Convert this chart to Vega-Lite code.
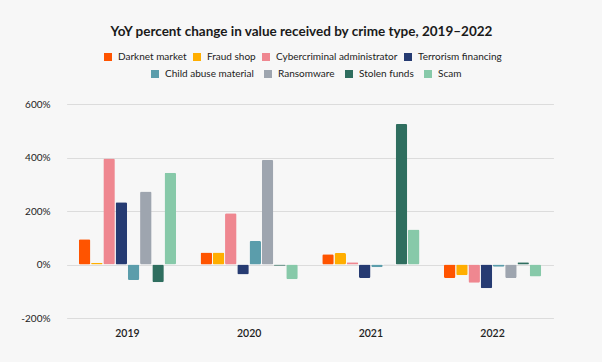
{
  "$schema": "https://vega.github.io/schema/vega-lite/v6.json",
  "autosize": "none",
  "width": 521,
  "height": 214,
  "padding": {"left": 57, "top": 104, "right": 24, "bottom": 44},
  "background": "#f7f7f7",
  "title": {
    "text": "YoY percent change in value received by crime type, 2019–2022",
    "font": "Lato",
    "fontSize": 13.5,
    "fontWeight": "bold",
    "color": "#1a1a1a",
    "anchor": "middle",
    "frame": "group",
    "dx": -16,
    "offset": 14
  },
  "config": {
    "view": {"stroke": null},
    "font": "Lato",
    "legend": {
      "orient": "none",
      "direction": "horizontal",
      "title": null,
      "symbolType": "square",
      "symbolSize": 64,
      "symbolStrokeWidth": 0,
      "symbolOpacity": 1,
      "labelFont": "Lato",
      "labelFontSize": 10,
      "labelColor": "#222222",
      "labelOffset": 5,
      "padding": 0
    }
  },
  "data": {
    "values": [
      {"year": "2019", "crime": "Darknet market", "value": 94},
      {"year": "2019", "crime": "Fraud shop", "value": 7},
      {"year": "2019", "crime": "Cybercriminal administrator", "value": 396},
      {"year": "2019", "crime": "Terrorism financing", "value": 233},
      {"year": "2019", "crime": "Child abuse material", "value": -58},
      {"year": "2019", "crime": "Ransomware", "value": 273},
      {"year": "2019", "crime": "Stolen funds", "value": -66},
      {"year": "2019", "crime": "Scam", "value": 343},
      {"year": "2020", "crime": "Darknet market", "value": 45},
      {"year": "2020", "crime": "Fraud shop", "value": 45},
      {"year": "2020", "crime": "Cybercriminal administrator", "value": 192},
      {"year": "2020", "crime": "Terrorism financing", "value": -37},
      {"year": "2020", "crime": "Child abuse material", "value": 88},
      {"year": "2020", "crime": "Ransomware", "value": 391},
      {"year": "2020", "crime": "Stolen funds", "value": -5},
      {"year": "2020", "crime": "Scam", "value": -55},
      {"year": "2021", "crime": "Darknet market", "value": 38},
      {"year": "2021", "crime": "Fraud shop", "value": 43},
      {"year": "2021", "crime": "Cybercriminal administrator", "value": 8},
      {"year": "2021", "crime": "Terrorism financing", "value": -50},
      {"year": "2021", "crime": "Child abuse material", "value": -10},
      {"year": "2021", "crime": "Ransomware", "value": -2},
      {"year": "2021", "crime": "Stolen funds", "value": 525},
      {"year": "2021", "crime": "Scam", "value": 131},
      {"year": "2022", "crime": "Darknet market", "value": -50},
      {"year": "2022", "crime": "Fraud shop", "value": -40},
      {"year": "2022", "crime": "Cybercriminal administrator", "value": -68},
      {"year": "2022", "crime": "Terrorism financing", "value": -89},
      {"year": "2022", "crime": "Child abuse material", "value": -8},
      {"year": "2022", "crime": "Ransomware", "value": -50},
      {"year": "2022", "crime": "Stolen funds", "value": 8},
      {"year": "2022", "crime": "Scam", "value": -45}
    ]
  },
  "encoding": {
    "x": {
      "field": "year",
      "type": "nominal",
      "scale": {"range": [9.6, 496.4], "paddingInner": 0, "paddingOuter": 0},
      "axis": {
        "title": null,
        "labelAngle": 0,
        "domain": false,
        "ticks": false,
        "labelPadding": 10,
        "labelFontSize": 10.5,
        "labelColor": "#222222",
        "labelFont": "Lato",
        "labelFontWeight": 600
      }
    },
    "xOffset": {
      "field": "crime",
      "type": "nominal",
      "sort": ["Darknet market", "Fraud shop", "Cybercriminal administrator", "Terrorism financing", "Child abuse material", "Ransomware", "Stolen funds", "Scam"],
      "scale": {
        "domain": ["Darknet market", "Fraud shop", "Cybercriminal administrator", "Terrorism financing", "Child abuse material", "Ransomware", "Stolen funds", "Scam"],
        "paddingInner": 0.06,
        "paddingOuter": 2.15
      }
    },
    "y": {
      "field": "value",
      "type": "quantitative",
      "scale": {"domain": [-200, 600], "nice": false},
      "axis": {
        "title": null,
        "values": [-200, 0, 200, 400, 600],
        "labelExpr": "datum.value + '%'",
        "domain": false,
        "ticks": false,
        "labelPadding": 7,
        "labelFontSize": 10,
        "labelColor": "#222222",
        "labelFont": "Lato",
        "gridColor": "#dcdcdc",
        "gridWidth": 1
      }
    }
  },
  "layer": [
    {
      "transform": [{"filter": {"field": "crime", "oneOf": ["Darknet market", "Fraud shop", "Cybercriminal administrator", "Terrorism financing"]}}],
      "mark": {"type": "bar", "cornerRadius": 1.5},
      "encoding": {
        "color": {
          "field": "crime",
          "type": "nominal",
          "scale": {
            "domain": ["Darknet market", "Fraud shop", "Cybercriminal administrator", "Terrorism financing"],
            "range": ["#ff5400", "#ffae00", "#ef8790", "#263b72"]
          },
          "legend": {"legendX": 46, "legendY": -52, "columnPadding": 5}
        }
      }
    },
    {
      "transform": [{"filter": {"field": "crime", "oneOf": ["Child abuse material", "Ransomware", "Stolen funds", "Scam"]}}],
      "mark": {"type": "bar", "cornerRadius": 1.5},
      "encoding": {
        "fill": {
          "field": "crime",
          "type": "nominal",
          "scale": {
            "domain": ["Child abuse material", "Ransomware", "Stolen funds", "Scam"],
            "range": ["#5b9dab", "#9ea5af", "#2f6e5f", "#87c9a9"]
          },
          "legend": {"legendX": 93, "legendY": -35, "columnPadding": 9}
        }
      }
    }
  ]
}
